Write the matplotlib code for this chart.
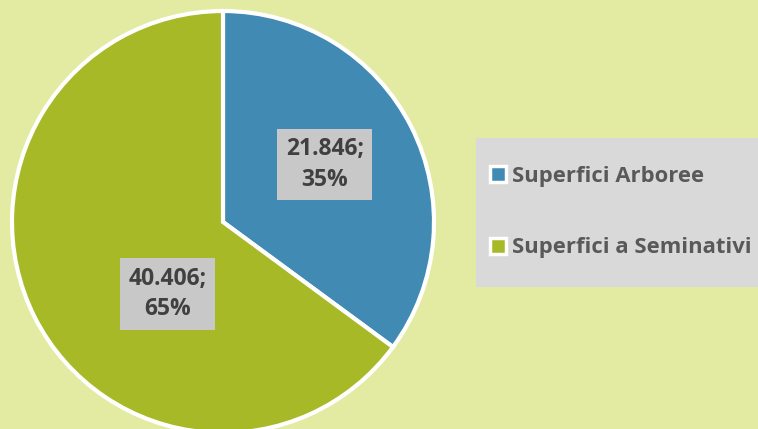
import matplotlib.pyplot as plt
from matplotlib.patches import Rectangle, Patch
import numpy as np

categories = ['Superfici Arboree', 'Superfici a Seminativi']
values = [21846, 40406]
value_labels = ['21.846', '40.406']
colors = ['#418AB3', '#A8B927']

bg = '#E3EBA2'
plt.rcParams['font.family'] = ['Open Sans', 'DejaVu Sans']

fig = plt.figure(figsize=(7.58, 4.29), dpi=100, facecolor=bg)

# pie axes: centre about (223, 222) px, radius 211 px
ax = fig.add_axes([12 / 758, (429 - 433) / 429, 422 / 758, 422 / 429])
ax.set_facecolor(bg)
wedges, _ = ax.pie(values, colors=colors, startangle=90, counterclock=False,
                   radius=1, wedgeprops=dict(edgecolor='white', linewidth=3))
for w in wedges:
    w.set_clip_on(False)
ax.set_xlim(-1, 1)
ax.set_ylim(-1, 1)
ax.axis('off')

total = sum(values)
# label spots (distance from centre, angle offset) similar to the original
label_pos = [(0.554, 2.7), (0.431, 25.4)]
for w, v, lab, (dist, off) in zip(wedges, values, value_labels, label_pos):
    ang = np.deg2rad((w.theta1 + w.theta2) / 2 + off)
    pct = round(100 * v / total)
    ax.text(dist * np.cos(ang), dist * np.sin(ang), f'{lab};\n{pct}%',
            ha='center', va='center', fontsize=16.5, fontweight='bold',
            color='#404040', linespacing=1.35,
            bbox=dict(boxstyle='square,pad=0.38', facecolor='#C8C8C8', edgecolor='none'))

# legend box
fig.patches.append(Rectangle((476 / 758, (429 - 287) / 429), 290 / 758, 149 / 429,
                             transform=fig.transFigure, facecolor='#D9D9D9',
                             edgecolor='none', zorder=0))
handles = [Patch(facecolor=c, edgecolor='white', linewidth=2.5) for c in colors]
leg = fig.legend(handles, categories, loc='center left',
                 bbox_to_anchor=(470 / 758, (429 - 212) / 429), frameon=False,
                 handlelength=0.75, handleheight=0.75, handletextpad=0.25,
                 labelspacing=2.3, prop=dict(size=15.8, weight='bold'))
for t in leg.get_texts():
    t.set_color('#595959')

fig.savefig('out.png', dpi=100, facecolor=bg)
